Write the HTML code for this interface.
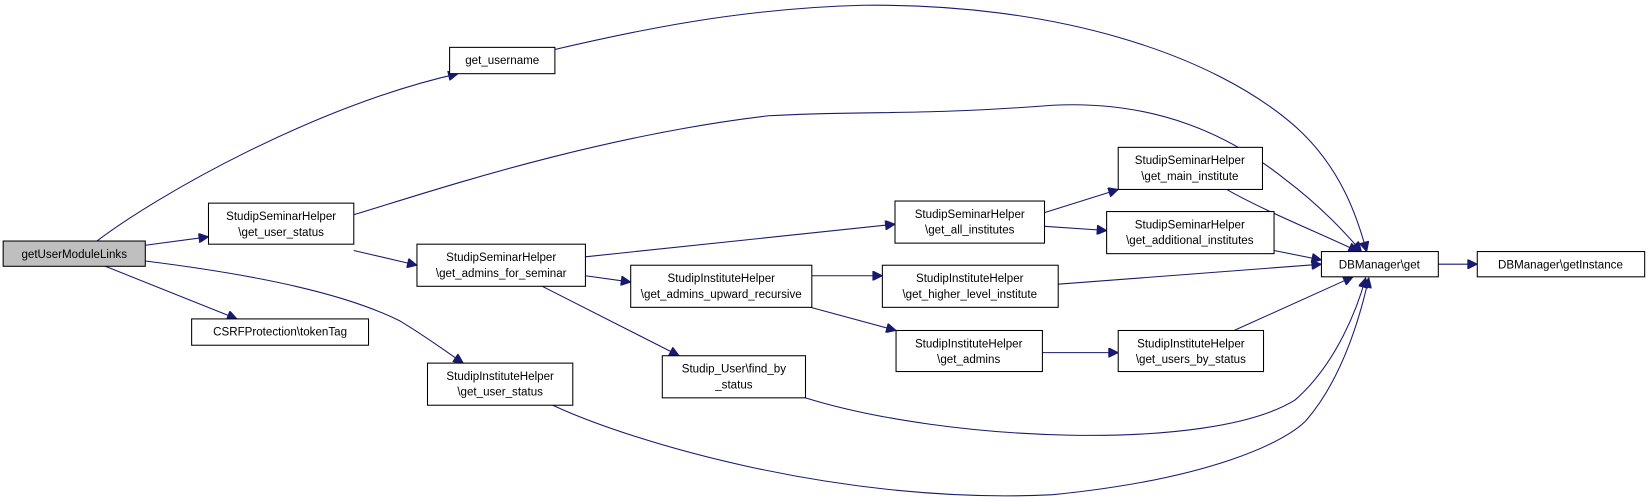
<!DOCTYPE html>
<html><head><meta charset="utf-8"><style>
html,body{margin:0;padding:0;background:#fff;}
svg{display:block;}
text{font-family:"Liberation Sans",sans-serif;font-size:11px;fill:#000;}
</style></head><body>
<svg width="1651" height="501" viewBox="0 0 1568 476" preserveAspectRatio="none" xmlns="http://www.w3.org/2000/svg">
<defs><marker id="a" viewBox="0 0 10 10" refX="10" refY="5" markerWidth="12" markerHeight="9" markerUnits="userSpaceOnUse" orient="auto"><path d="M0,0 L10,5 L0,10 z" fill="#191970" stroke="#191970"/></marker></defs>
<g fill="none" stroke="#191970" stroke-width="1" marker-end="url(#a)">
<path d="M92,229 C150,185 300,100 435,70"/>
<path d="M138,233 L198,225"/>
<path d="M100,253 L225,303"/>
<path d="M138,248 C250,262 330,280 380,305 C405,320 425,335 440,345"/>
<path d="M527,47 C600,30 700,8 820,5 C1000,3 1150,50 1230,120 C1275,160 1290,210 1298,239"/>
<path d="M336,204 C400,185 560,130 730,110 C820,105 870,110 1000,100 C1100,95 1170,130 1220,170 C1260,200 1285,230 1293,239"/>
<path d="M336,238 L396,252"/>
<path d="M556,244 L850,213"/>
<path d="M556,262 L599,268"/>
<path d="M515,272 L645,338"/>
<path d="M992,202 L1062,180"/>
<path d="M992,215 L1051,219"/>
<path d="M1165,180 C1200,200 1250,220 1290,239"/>
<path d="M1210,238 L1255,247"/>
<path d="M771,262 L838,262"/>
<path d="M770,292 L851,314"/>
<path d="M1005,270 L1255,251"/>
<path d="M990,335 L1062,335"/>
<path d="M1172,314 L1285,263"/>
<path d="M765,378 C900,420 1150,430 1230,380 C1270,345 1290,290 1297,264"/>
<path d="M525,385 C600,420 800,480 1000,470 C1150,455 1220,420 1240,400 C1275,360 1292,300 1300,264"/>
<path d="M1366,251 L1403,251"/>
</g>
<g stroke="#000" stroke-width="1" fill="#fff">
<rect x="3" y="229" width="135" height="24" fill="#bfbfbf"/>
<rect x="427" y="45" width="100" height="25"/>
<rect x="198" y="193" width="138" height="39"/>
<rect x="182" y="303" width="168" height="25"/>
<rect x="406" y="345" width="138" height="40"/>
<rect x="396" y="232" width="160" height="40"/>
<rect x="599" y="252" width="172" height="40"/>
<rect x="629" y="338" width="136" height="40"/>
<rect x="850" y="191" width="142" height="40"/>
<rect x="1062" y="140" width="137" height="40"/>
<rect x="1051" y="201" width="159" height="40"/>
<rect x="838" y="252" width="167" height="40"/>
<rect x="851" y="314" width="139" height="39"/>
<rect x="1062" y="314" width="138" height="39"/>
<rect x="1255" y="239" width="111" height="24"/>
<rect x="1403" y="239" width="159" height="24"/>
</g>
<g text-anchor="middle">
<text x="70.5" y="245">getUserModuleLinks</text>
<text x="477" y="61">get_username</text>
<text x="267" y="209">StudipSeminarHelper</text>
<text x="267" y="224">\get_user_status</text>
<text x="266" y="319">CSRFProtection\tokenTag</text>
<text x="475" y="361">StudipInstituteHelper</text>
<text x="475" y="376">\get_user_status</text>
<text x="476" y="248">StudipSeminarHelper</text>
<text x="476" y="263">\get_admins_for_seminar</text>
<text x="685" y="268">StudipInstituteHelper</text>
<text x="685" y="283">\get_admins_upward_recursive</text>
<text x="697" y="354">Studip_User\find_by</text>
<text x="697" y="369">_status</text>
<text x="921" y="207">StudipSeminarHelper</text>
<text x="921" y="222">\get_all_institutes</text>
<text x="1130" y="156">StudipSeminarHelper</text>
<text x="1130" y="171">\get_main_institute</text>
<text x="1130" y="217">StudipSeminarHelper</text>
<text x="1130" y="232">\get_additional_institutes</text>
<text x="921" y="268">StudipInstituteHelper</text>
<text x="921" y="283">\get_higher_level_institute</text>
<text x="920" y="330">StudipInstituteHelper</text>
<text x="920" y="345">\get_admins</text>
<text x="1131" y="330">StudipInstituteHelper</text>
<text x="1131" y="345">\get_users_by_status</text>
<text x="1310" y="255">DBManager\get</text>
<text x="1482" y="255">DBManager\getInstance</text>
</g>
</svg>
</body></html>
